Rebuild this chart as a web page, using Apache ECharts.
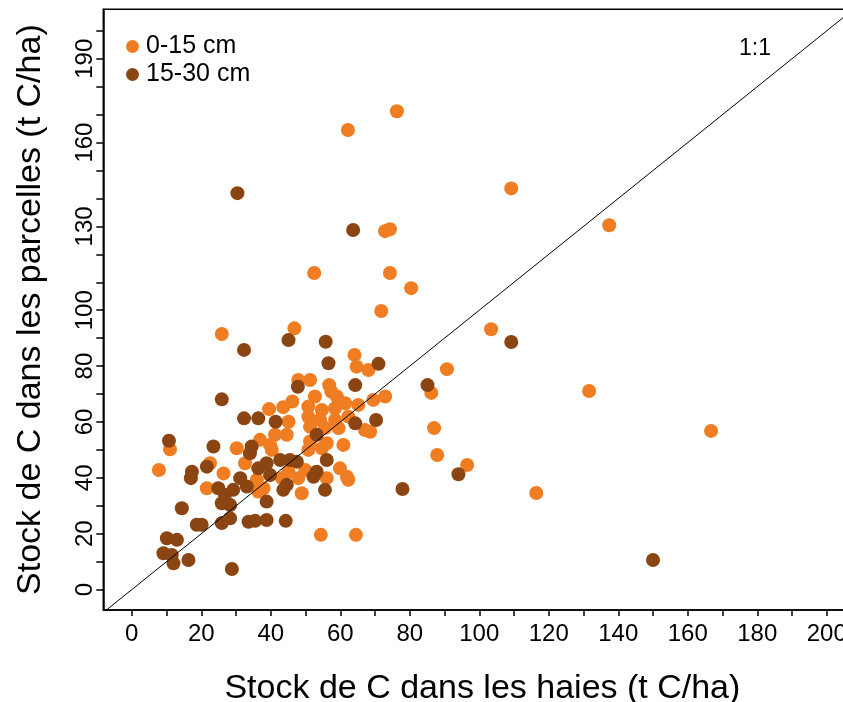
<!DOCTYPE html>
<html>
<head>
<meta charset="utf-8">
<script src="https://cdn.jsdelivr.net/npm/echarts@6/dist/echarts.min.js"></script>
<style>
  html, body { margin: 0; padding: 0; background: #fff; overflow: hidden; }
  #chart { width: 880px; height: 702px; }
</style>
</head>
<body>
<div id="chart"></div>
<script>
// Soil carbon stock: hedgerows (x) vs. adjacent fields (y), t C/ha
var seriesNames = ['0-15 cm', '15-30 cm'];

// 0-15 cm layer: [haies, parcelles]
var topLayer = [
  [76.3,171.2],[62.2,164.5],[109.2,143.6],[137.4,130.4],[72.9,128.3],[74.3,129.0],
  [52.5,113.3],[74.3,113.3],[80.4,107.9],[71.8,99.7],[103.4,93.2],[25.9,91.5],
  [46.8,93.5],[64.1,84.0],[64.7,79.8],[68.1,78.6],[90.7,78.9],[131.6,71.1],
  [86.2,70.4],[72.9,69.1],[69.5,67.9],[68.6,56.5],[87.0,57.8],[166.7,56.8],
  [87.9,48.2],[96.5,44.6],[116.4,34.6],[54.4,19.6],[64.5,19.6],[7.8,42.8],
  [11.0,50.2],[30.2,50.6],
  [47.9,75.0],[51.3,75.0],[56.8,73.2],[57.4,70.9],[59.0,69.1],[52.7,69.1],
  [46.2,67.3],[43.6,65.3],[39.5,64.6],[50.8,65.5],[54.7,64.3],[58.5,64.9],
  [61.4,66.7],[65.2,66.1],[50.8,61.9],[54.2,60.7],[58.5,60.7],[62.3,61.9],
  [45.1,60.1],[51.3,58.3],[55.6,57.8],[59.5,57.8],[67.1,57.1],[41.2,55.4],
  [44.6,55.4],[51.3,53.0],[56.1,52.4],[36.9,53.6],[39.8,51.8],[60.9,51.8],
  [32.6,45.2],[22.5,45.2],[26.4,41.6],[21.6,36.3],[36.4,35.1],
  [40.3,50.0],[50.8,50.0],[54.7,50.6],[49.9,42.8],[59.9,43.4],[61.9,40.4],
  [62.3,39.3],[56.1,39.9],[47.9,39.9],[45.1,42.2],[43.2,39.9],[48.9,34.5],
  [37.9,36.3],[36.0,39.3]
];

// 15-30 cm layer: [haies, parcelles]
var deepLayer = [
  [30.4,141.9],[63.7,128.7],[32.3,85.8],[45.1,89.3],[55.8,88.7],[109.2,88.6],
  [25.9,68.1],[32.3,61.3],[36.4,61.3],[10.7,53.3],[23.5,51.2],[34.5,51.2],
  [71.0,80.8],[56.6,81.0],[47.8,72.6],[64.3,73.2],[85.1,73.2],[41.4,60.1],
  [64.3,59.5],[70.3,60.7],[53.2,55.4],[94.0,41.3],[77.9,36.0],[150.0,10.6],
  [28.8,7.4],
  [34.0,48.8],[17.3,42.2],[17.0,39.9],[21.6,44.0],[24.9,36.3],[31.2,39.9],
  [29.2,35.7],[25.9,30.9],[28.3,30.3],[26.8,33.9],[33.1,36.9],[14.4,29.1],
  [18.7,23.2],[20.1,23.2],[25.9,23.8],[28.3,25.5],[33.6,24.3],[10.1,18.4],
  [13.0,17.8],[9.1,13.0],[11.5,12.4],[12.0,9.4],[16.3,10.6],
  [38.8,45.2],[42.7,46.4],[45.5,46.4],[47.5,45.8],[36.4,43.4],[39.8,41.0],
  [56.1,46.4],[53.2,42.2],[52.3,40.4],[44.6,37.5],[43.6,35.7],[55.6,35.7],
  [38.8,31.5],[38.8,24.9],[44.3,24.6],[35.5,24.6]
];

// Axis ticks and labels
var xTicks = [0,10,20,30,40,50,60,70,80,90,100,110,120,130,140,150,160,170,180,190,200];
var xLabels = [0,20,40,60,80,100,120,140,160,180,200];
var yTicks = [0,10,20,30,40,50,60,70,80,90,100,110,120,130,140,150,160,170,180,190,200];
var yLabels = [0,20,40,60,80,100,130,160,190];

// Identity reference line
var identityLine = [[-10, -10], [220, 220]];

var FONT = 'Liberation Sans, Arial, sans-serif';
var ORANGE = '#F07D22';
var BROWN = '#8B4513';

var chart = echarts.init(document.getElementById('chart'), null, { renderer: 'canvas' });

chart.setOption({
  animation: false,
  backgroundColor: '#fff',
  textStyle: { fontFamily: FONT, color: '#000' },
  grid: {
    left: 103.3, top: 9.3, width: 758.2, height: 600.7,
    outerBoundsMode: 'none', containLabel: false,
    show: true, borderColor: '#000', borderWidth: 1.5, backgroundColor: 'transparent'
  },
  legend: {
    data: seriesNames,
    orient: 'vertical',
    left: 121, top: 29,
    itemWidth: 13, itemHeight: 13, itemGap: 3,
    icon: 'circle',
    textStyle: { fontFamily: FONT, fontSize: 25, color: '#000', padding: [0, 0, 0, 2] }
  },
  xAxis: {
    type: 'value',
    min: -8.2, max: 210,
    name: 'Stock de C dans les haies (t C/ha)',
    nameLocation: 'middle', nameGap: 62,
    nameTextStyle: { fontFamily: FONT, fontSize: 34, color: '#000' },
    splitLine: { show: false },
    axisLine: { show: true, onZero: false, lineStyle: { color: '#000', width: 1.5 } },
    axisTick: { show: true, inside: false, length: 6, customValues: xTicks, lineStyle: { color: '#000', width: 1.5 } },
    axisLabel: { customValues: xLabels, margin: 12, fontFamily: FONT, fontSize: 24, color: '#000' }
  },
  yAxis: {
    type: 'value',
    min: -7.3, max: 207.7,
    name: 'Stock de C dans les parcelles (t C/ha)',
    nameLocation: 'middle', nameGap: 56,
    nameTextStyle: { fontFamily: FONT, fontSize: 34, color: '#000' },
    splitLine: { show: false },
    axisLine: { show: true, onZero: false, lineStyle: { color: '#000', width: 1.5 } },
    axisTick: { show: true, inside: false, length: 7, customValues: yTicks, lineStyle: { color: '#000', width: 1.5 } },
    axisLabel: { customValues: yLabels, rotate: 90, margin: 6, fontFamily: FONT, fontSize: 24, color: '#000' }
  },
  graphic: [{
    type: 'text',
    left: 739, top: 37,
    style: { text: '1:1', font: '23px ' + FONT, fill: '#000' }
  }],
  series: [
    {
      name: seriesNames[0], type: 'scatter', data: topLayer,
      symbol: 'circle', symbolSize: 14,
      itemStyle: { color: ORANGE, opacity: 1 }, z: 2
    },
    {
      name: seriesNames[1], type: 'scatter', data: deepLayer,
      symbol: 'circle', symbolSize: 14,
      itemStyle: { color: BROWN, opacity: 1 }, z: 3
    },
    {
      name: '1:1', type: 'line', data: identityLine,
      symbol: 'none', clip: true, silent: true,
      lineStyle: { color: '#000', width: 1 }, z: 4
    }
  ]
});
</script>
</body>
</html>
